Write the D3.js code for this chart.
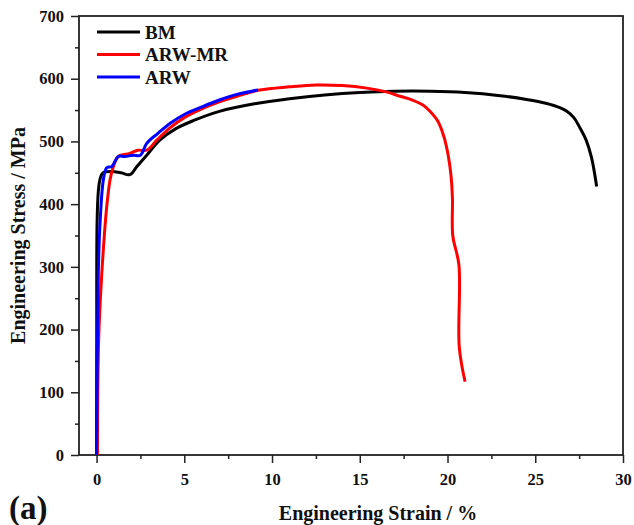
<!DOCTYPE html>
<html>
<head>
<meta charset="utf-8">
<script src="https://cdn.jsdelivr.net/npm/d3@7"></script>
<style>
  body { margin: 0; background: #fff; }
  svg { display: block; font-family: "Liberation Serif", "Times New Roman", serif; font-weight: bold; }
</style>
</head>
<body>
<div class="chart"></div>
<script>
// series: strain (%) and stress (MPa)
const bmStrain = [0, 0.01, 0.03, 0.1, 0.2, 0.37, 0.8, 1.4, 1.9, 2.3, 2.86, 3.6, 4.5, 5.5, 7, 9, 11, 13, 15, 17, 19, 21, 23, 24.5, 25.6, 26.4, 26.8, 27.2, 27.5, 27.9, 28.2, 28.5];
const bmStress = [0, 183, 370, 420, 440, 450, 452, 450, 447, 460, 478, 502, 520, 533, 548, 560, 568, 574, 578, 580, 580, 578, 573, 567, 561, 554, 548, 538, 524, 502, 475, 428];

const mrStrain = [0.05, 0.12, 0.3, 0.58, 0.77, 0.96, 1.24, 1.9, 2.37, 2.86, 3.43, 4.2, 5, 6, 7, 8, 9.3, 11, 12.5, 14, 15.4, 16.5, 17.3, 18, 18.6, 19, 19.45, 19.8, 20.05, 20.2, 20.28, 20.3, 20.65, 20.67, 21.0];
const mrStress = [0, 183, 290, 396, 439, 460, 476, 481, 486, 486, 502, 522, 538, 552, 563, 572, 582, 587, 590, 589, 585, 579, 572, 566, 558, 548, 532, 507, 476, 445, 410, 350, 303, 172, 117];

const arwStrain = [0, 0.1, 0.2, 0.39, 0.58, 0.87, 1.24, 1.6, 2.1, 2.5, 2.86, 3.5, 4.2, 5, 6, 7, 8, 9.2];
const arwStress = [0, 290, 370, 439, 458, 460, 476, 476, 478, 478, 497, 513, 529, 543, 555, 566, 575, 582];

const seriesNames = ["BM", "ARW-MR", "ARW"];
const seriesColors = ["#000000", "#ff0000", "#0000ff"];
const xTicks = [0, 5, 10, 15, 20, 25, 30];
const yTicks = [0, 100, 200, 300, 400, 500, 600, 700];

const W = 634, H = 525;
const margin = { top: 16, right: 11, bottom: 70, left: 79 };

const svg = d3.select(".chart").append("svg")
  .attr("width", W)
  .attr("height", H);

const x = d3.scaleLinear().domain([-1, 30]).range([margin.left, W - margin.right]);
const y = d3.scaleLinear().domain([0, 700]).range([H - margin.bottom, margin.top]);

// minor ticks
svg.append("g")
  .attr("transform", `translate(0,${y(0)})`)
  .call(d3.axisBottom(x).tickValues(d3.range(2.5, 30, 5)).tickSize(4).tickSizeOuter(0).tickFormat(""))
  .call(g => g.select(".domain").remove())
  .selectAll("line").attr("stroke", "#222").attr("stroke-width", 1.5);

svg.append("g")
  .attr("transform", `translate(${x(-1)},0)`)
  .call(d3.axisLeft(y).tickValues(d3.range(50, 700, 100)).tickSize(4).tickSizeOuter(0).tickFormat(""))
  .call(g => g.select(".domain").remove())
  .selectAll("line").attr("stroke", "#222").attr("stroke-width", 1.5);

// major ticks
const xAxis = svg.append("g")
  .attr("transform", `translate(0,${y(0)})`)
  .call(d3.axisBottom(x).tickValues(xTicks).tickSize(8).tickSizeOuter(0).tickPadding(10))
  .call(g => g.select(".domain").remove());
xAxis.selectAll("line").attr("stroke", "#222").attr("stroke-width", 1.5);
xAxis.selectAll("text").attr("font-size", 16.5).attr("font-family", "Liberation Serif").attr("font-weight", "bold").attr("fill", "#111");

const yAxis = svg.append("g")
  .attr("transform", `translate(${x(-1)},0)`)
  .call(d3.axisLeft(y).tickValues(yTicks).tickSize(8).tickSizeOuter(0).tickPadding(7))
  .call(g => g.select(".domain").remove());
yAxis.selectAll("line").attr("stroke", "#222").attr("stroke-width", 1.5);
yAxis.selectAll("text").attr("font-size", 16.5).attr("font-family", "Liberation Serif").attr("font-weight", "bold").attr("fill", "#111");

// frame
svg.append("rect")
  .attr("x", x(-1)).attr("y", y(700))
  .attr("width", x(30) - x(-1)).attr("height", y(0) - y(700))
  .attr("fill", "none").attr("stroke", "#222").attr("stroke-width", 1.8);

const line = d3.line()
  .x(d => x(d[0]))
  .y(d => y(d[1]))
  .curve(d3.curveCatmullRom.alpha(0.5));

const dataSet = [
  d3.zip(bmStrain, bmStress),
  d3.zip(mrStrain, mrStress),
  d3.zip(arwStrain, arwStress)
];

svg.selectAll("path.curve")
  .data(dataSet)
  .enter()
  .append("path")
  .attr("class", "curve")
  .attr("d", line)
  .attr("fill", "none")
  .attr("stroke", (d, i) => seriesColors[i])
  .attr("stroke-width", 3)
  .attr("stroke-linejoin", "round");

// legend
const legend = svg.append("g");
seriesNames.forEach((name, i) => {
  const ly = 32 + i * 22.5;
  legend.append("line")
    .attr("x1", 97).attr("x2", 140)
    .attr("y1", ly).attr("y2", ly)
    .attr("stroke", seriesColors[i]).attr("stroke-width", 3);
  legend.append("text")
    .attr("x", 145).attr("y", ly + 6.5)
    .attr("font-size", 19)
    .attr("fill", "#111")
    .text(name);
});

// titles
svg.append("text")
  .attr("x", 378).attr("y", 520)
  .attr("text-anchor", "middle")
  .attr("font-size", 20)
  .attr("fill", "#111")
  .text("Engineering Strain / %");

svg.append("text")
  .attr("transform", `translate(25,${(y(0) + y(700)) / 2}) rotate(-90)`)
  .attr("text-anchor", "middle")
  .attr("font-size", 20)
  .attr("fill", "#111")
  .text("Engineering Stress / MPa");

svg.append("text")
  .attr("x", 9).attr("y", 519)
  .attr("font-size", 33)
  .attr("fill", "#111")
  .text("(a)");
</script>
</body>
</html>
